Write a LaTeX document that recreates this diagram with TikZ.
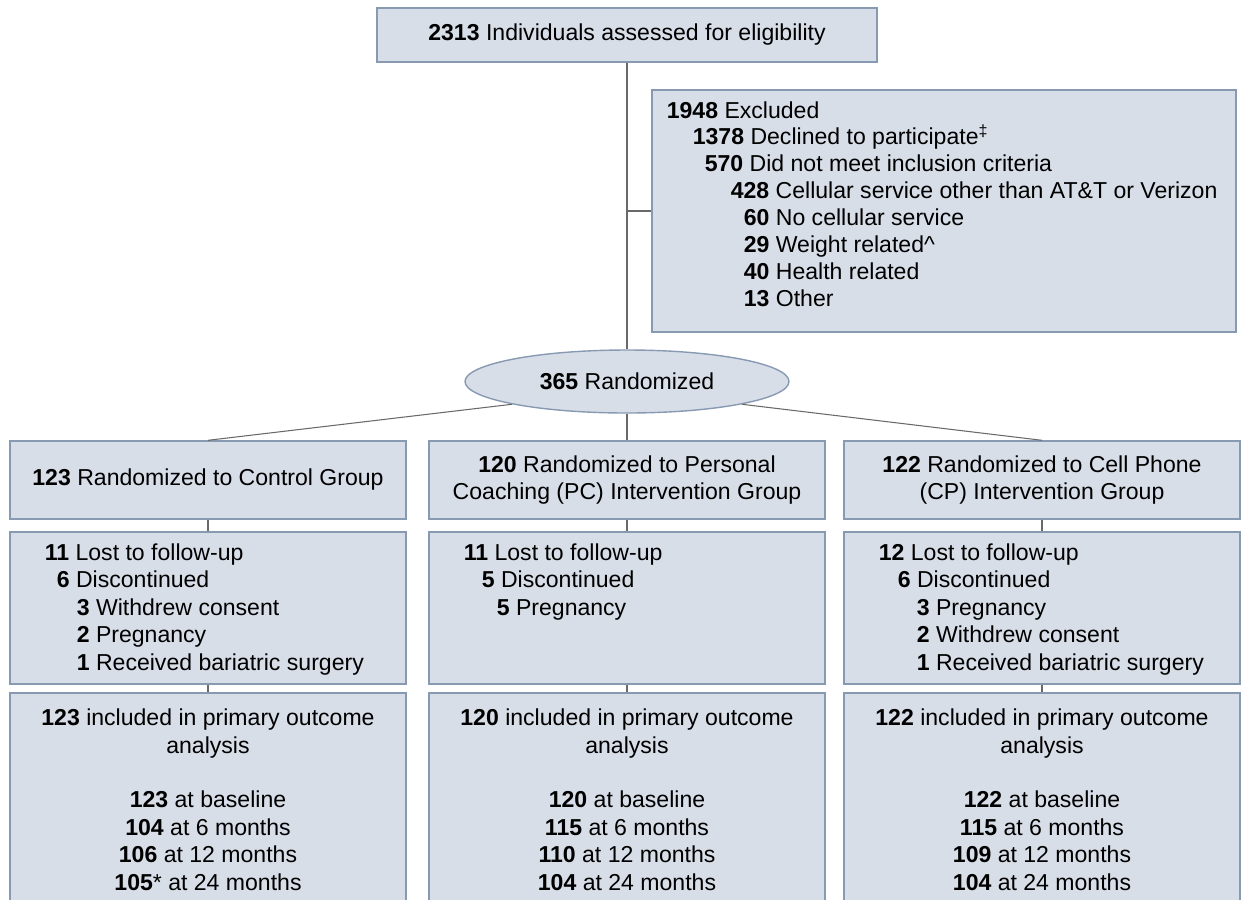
\documentclass[tikz,border=0pt]{standalone}
\usepackage{fontspec}
\setmainfont{Liberation Sans}
\usetikzlibrary{shapes}
\definecolor{boxfill}{RGB}{216,222,232}
\definecolor{boxline}{RGB}{136,154,178}
\definecolor{wire}{RGB}{105,105,105}

\begin{document}
\begin{tikzpicture}[line width=0.75pt, every edge/.style={draw=wire, line width=0.75pt},
	box/.style={rectangle, draw=boxline, fill=boxfill, line width=1pt, inner sep=0pt, align=center, font=\fontsize{16.4pt}{19.5pt}\selectfont},
	lst/.style={anchor=north west, inner sep=0pt, align=left, font=\fontsize{16.4pt}{19.6pt}\selectfont}]
		\useasboundingbox (0, 0) rectangle (31.1, -22.475);
		
		\node[box, minimum width=12.5cm, minimum height=1.35cm] (all) at (15.675, -0.875) {\textbf{2313} Individuals assessed for eligibility};
		
		\node[box, minimum width=14.6cm, minimum height=6.05cm] (ex) at (23.6, -5.275) {};
		\node[lst, font=\fontsize{16.4pt}{19.1pt}\selectfont] (ext) at ([yshift=-0.29cm]ex.north west) {\hspace*{0.375cm}\textbf{1948} Excluded\\
			\hspace*{1.025cm}\textbf{1378} Declined to participate\textsuperscript{\ddag}\\
			\hspace*{1.325cm}\textbf{570} Did not meet inclusion criteria\\
			\hspace*{1.975cm}\textbf{428} Cellular service other than AT\&T or Verizon\\
			\hspace*{2.3cm}\textbf{60} No cellular service\\
			\hspace*{2.3cm}\textbf{29} Weight related\textasciicircum\\
			\hspace*{2.3cm}\textbf{40} Health related\\
			\hspace*{2.3cm}\textbf{13} Other};
		
		\node[box, ellipse, minimum width=8.1cm, minimum height=1.575cm] (rnd) at (15.675, -9.5375) {\textbf{365} Randomized};
		
		% arms
		\node[box, minimum width=9.9cm, minimum height=1.95cm] (g1) at (5.2, -12) {\textbf{123} Randomized to Control Group};
		\node[box, minimum width=9.9cm, minimum height=1.95cm] (g2) at (15.675, -12) {\textbf{120} Randomized to Personal\\ Coaching (PC) Intervention Group};
		\node[box, minimum width=9.9cm, minimum height=1.95cm] (g3) at (26.05, -12) {\textbf{122} Randomized to Cell Phone\\ (CP) Intervention Group};
		
		% follow-up
		\node[box, minimum width=9.9cm, minimum height=3.8cm] (l1) at (5.2, -15.2) {};
		\node[lst] (l1t) at ([yshift=-0.29cm]l1.north west) {\hspace*{0.875cm}\textbf{11} Lost to follow-up\\
			\hspace*{1.175cm}\textbf{6} Discontinued\\
			\hspace*{1.675cm}\textbf{3} Withdrew consent\\
			\hspace*{1.675cm}\textbf{2} Pregnancy\\
			\hspace*{1.675cm}\textbf{1} Received bariatric surgery};
		\node[box, minimum width=9.9cm, minimum height=3.8cm] (l2) at (15.675, -15.2) {};
		\node[lst] (l2t) at ([yshift=-0.29cm]l2.north west) {\hspace*{0.875cm}\textbf{11} Lost to follow-up\\
			\hspace*{1.325cm}\textbf{5} Discontinued\\
			\hspace*{1.7cm}\textbf{5} Pregnancy};
		\node[box, minimum width=9.9cm, minimum height=3.8cm] (l3) at (26.05, -15.2) {};
		\node[lst] (l3t) at ([yshift=-0.29cm]l3.north west) {\hspace*{0.875cm}\textbf{12} Lost to follow-up\\
			\hspace*{1.35cm}\textbf{6} Discontinued\\
			\hspace*{1.825cm}\textbf{3} Pregnancy\\
			\hspace*{1.825cm}\textbf{2} Withdrew consent\\
			\hspace*{1.825cm}\textbf{1} Received bariatric surgery};
		
		% analysis
		\node[box, minimum width=9.9cm, minimum height=5.425cm] (a1) at (5.2, -20.0375) {};
		\node[box, draw=none, fill=none, anchor=north] (a1t) at ([yshift=-0.4cm]a1.north) {\textbf{123} included in primary outcome\\ analysis\\ \\
			\textbf{123} at baseline\\ \textbf{104} at 6 months\\ \textbf{106} at 12 months\\ \textbf{105}* at 24 months};
		\node[box, minimum width=9.9cm, minimum height=5.425cm] (a2) at (15.675, -20.0375) {};
		\node[box, draw=none, fill=none, anchor=north] (a2t) at ([yshift=-0.4cm]a2.north) {\textbf{120} included in primary outcome\\ analysis\\ \\
			\textbf{120} at baseline\\ \textbf{115} at 6 months\\ \textbf{110} at 12 months\\ \textbf{104} at 24 months};
		\node[box, minimum width=9.9cm, minimum height=5.425cm] (a3) at (26.05, -20.0375) {};
		\node[box, draw=none, fill=none, anchor=north] (a3t) at ([yshift=-0.4cm]a3.north) {\textbf{122} included in primary outcome\\ analysis\\ \\
			\textbf{122} at baseline\\ \textbf{115} at 6 months\\ \textbf{109} at 12 months\\ \textbf{104} at 24 months};
		
		\path (all) edge (rnd)
			(all.south |- ex.west) edge (ex.west)
			(rnd.south west) edge (g1.north)
			(rnd) edge (g2)
			(rnd.south east) edge (g3.north)
			(g1) edge (l1)
			(g2) edge (l2)
			(g3) edge (l3)
			(l1.south) edge (a1.north)
			(l2.south) edge (a2.north)
			(l3.south) edge (a3.north);
	\end{tikzpicture}
\end{document}
